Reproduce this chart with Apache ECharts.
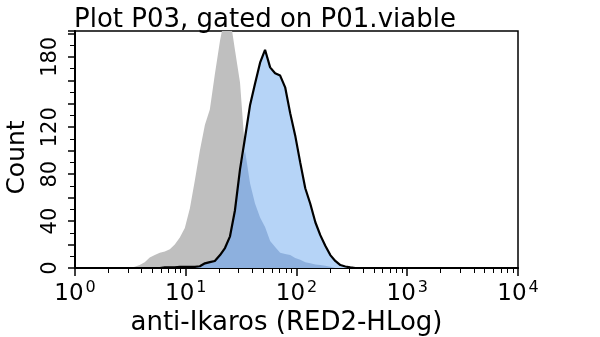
<!DOCTYPE html>
<html>
<head>
<meta charset="utf-8">
<script src="https://cdn.jsdelivr.net/npm/echarts@6/dist/echarts.min.js"></script>
<style>html,body{margin:0;padding:0;background:#fff;}#chart{width:600px;height:337px;}</style>
</head>
<body>
<div id="chart"></div>
<script>
// Channel values (anti-Ikaros, RED2-HLog), log-spaced bins
const channel = [3.12,3.46,3.84,4.26,4.73,5.25,5.83,6.47,7.18,7.96,8.84,9.81,10.9,12.1,13.4,14.9,16.5,18.3,20.4,22.6,25.1,27.8,30.9,34.3,38.1,42.2,46.9,52.0,57.8,64.1,71.2,79.0,87.7,97.3,108,120,133,148,164,182,202,224,249,276,306,340];
// Control (gray) histogram counts
const controlCounts = [0,1,2.5,5,9,11,13,14,16,20,26,34,51,75,100,122,135,165,194,215,214,186,158,100,72,55,43,35,23,18,13,12,11,8.5,7,5,4,3,2.5,2,1,0,0,0,0,0];
// Stained (blue) histogram counts
const stainedCounts = [0,0,0,0,0,0,0,0.5,0.5,0.5,1,1,1,1,1.5,4,5,6,11,17,27,49,84,111,139,157,175,186,171,166,164,154,132,113,90,68,55,39,28,19,11,6,2.5,1.3,0.5,0];
// Axis tick labels
const xTickValues = [1,10,100,1000,10000];
const yTickLabels = [0,40,80,120,180];
const titleText = 'Plot P03, gated on P01.viable';
const xName = 'anti-Ikaros (RED2-HLog)';
const yName = 'Count';

const FONT = 'DejaVu Sans';
const pairs = (ys) => channel.map((x, i) => [x, ys[i]]);
const overlap = channel.map((x, i) => [x, Math.min(controlCounts[i], stainedCounts[i])]);

// minor log ticks 2..9 per decade
const minorTicks = [];
for (let d = 1; d < 10000; d *= 10) for (let k = 2; k <= 9; k++) minorTicks.push(d * k);

const chart = echarts.init(document.getElementById('chart'), null, {renderer: 'canvas'});
chart.setOption({
  animation: false,
  backgroundColor: '#ffffff',
  title: {
    text: titleText, left: 69, top: 2,
    textStyle: {fontFamily: FONT, fontSize: 26, fontWeight: 'normal', color: '#000'}
  },
  grid: {left: 75, right: 82, top: 31, bottom: 69, show: true, borderColor: '#000', borderWidth: 1.5,
         containLabel: false, outerBoundsMode: 'none'},
  xAxis: [{
    type: 'log', logBase: 10, min: 1, max: 10000, position: 'bottom',
    name: xName, nameLocation: 'middle', nameGap: 40,
    nameTextStyle: {fontFamily: FONT, fontSize: 26, color: '#000', padding: [0, 20, 0, 0]},
    axisLine: {show: true, lineStyle: {color: '#000', width: 2}},
    axisTick: {show: true, inside: false, length: 8, customValues: xTickValues, lineStyle: {color: '#000', width: 1.5}},
    splitLine: {show: false},
    axisLabel: {
      show: true, margin: 12, customValues: xTickValues,
      formatter: (v) => '{b|10}{s|' + Math.round(Math.log10(v)) + '}',
      rich: {
        b: {fontFamily: FONT, fontSize: 23, color: '#000'},
        s: {fontFamily: FONT, fontSize: 16, color: '#000', padding: [0, 0, 12, 2]}
      }
    }
  }, {
    type: 'log', logBase: 10, min: 1, max: 10000, position: 'bottom',
    axisLine: {show: false},
    axisTick: {show: true, length: 5, customValues: minorTicks, lineStyle: {color: '#000', width: 1}},
    axisLabel: {show: false},
    splitLine: {show: false}
  }],
  yAxis: {
    type: 'value', min: 0, max: 202, interval: 20,
    name: yName, nameLocation: 'middle', nameGap: 45,
    nameTextStyle: {fontFamily: FONT, fontSize: 25, color: '#000', padding: [0, 16, 0, 0]},
    axisLine: {show: true, lineStyle: {color: '#000', width: 2}},
    axisTick: {show: true, length: 7, lineStyle: {color: '#000', width: 1.5}},
    minorTick: {show: true, splitNumber: 2, length: 5, lineStyle: {color: '#000', width: 1}},
    splitLine: {show: false},
    minorSplitLine: {show: false},
    axisLabel: {
      show: true, rotate: 90, margin: 14,
      fontFamily: FONT, fontSize: 21, color: '#000',
      formatter: (v) => yTickLabels.indexOf(v) >= 0 ? String(v) : ''
    }
  },
  series: [
    {type: 'line', name: 'control', data: pairs(controlCounts), symbol: 'none',
     lineStyle: {width: 0}, areaStyle: {color: '#bfbfbf', opacity: 1}, z: 1},
    {type: 'line', name: 'stained', data: pairs(stainedCounts), symbol: 'none',
     lineStyle: {width: 0}, areaStyle: {color: '#b6d4f7', opacity: 1}, z: 2},
    {type: 'line', name: 'overlap', data: overlap, symbol: 'none',
     lineStyle: {width: 0}, areaStyle: {color: '#8db0de', opacity: 1}, z: 3},
    {type: 'line', name: 'stainedOutline', data: pairs(stainedCounts), symbol: 'none',
     lineStyle: {width: 2.2, color: '#000'}, z: 4}
  ]
});
</script>
</body>
</html>
